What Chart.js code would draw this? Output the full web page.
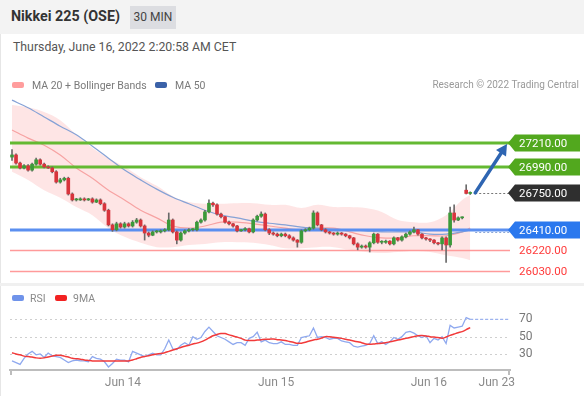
<!DOCTYPE html>
<html><head><meta charset="utf-8">
<script src="https://cdn.jsdelivr.net/npm/chart.js@4/dist/chart.umd.min.js"></script>
<style>
html,body{margin:0;padding:0;background:#fff;}
body{width:584px;height:396px;position:relative;overflow:hidden;font-family:Roboto,"Liberation Sans",Arial,sans-serif;}
#hdr{position:absolute;left:0;top:0;width:584px;height:34px;background:#f3f3f3;}
#title{position:absolute;left:11px;top:8px;font-size:14.3px;font-weight:bold;color:#333;}
#tf{position:absolute;left:130px;top:6px;height:23px;width:46px;background:#dcdde1;color:#444;font-size:12px;line-height:23px;text-align:center;}
#date{position:absolute;left:13px;top:40px;font-size:12.3px;color:#555;}
#leftline{position:absolute;left:0;top:34px;width:1px;height:362px;background:#e6e6e6;}
#sep{position:absolute;left:0;top:283px;width:584px;height:3px;background:#f0f0f0;}
canvas{position:absolute;left:0;}
#main{top:60px;}
#rsi{top:286px;}
.lg{position:absolute;font-size:10.5px;color:#7a7a7a;white-space:nowrap;z-index:2;}
.sw{position:absolute;width:12px;height:6px;border-radius:2px;z-index:2;}
</style></head>
<body>
<div id="hdr"></div>
<div id="title">Nikkei 225 (OSE)</div>
<div id="tf">30 MIN</div>
<div id="date">Thursday, June 16, 2022 2:20:58 AM CET</div>
<div id="leftline"></div>
<canvas id="main" width="584" height="223"></canvas>
<div id="sep"></div>
<canvas id="rsi" width="584" height="110"></canvas>
<div class="sw" style="left:12px;top:82px;background:#ff9d9d"></div>
<div class="lg" style="left:32px;top:79px">MA 20 + Bollinger Bands</div>
<div class="sw" style="left:155px;top:82px;background:#3b62a8"></div>
<div class="lg" style="left:175px;top:79px">MA 50</div>
<div class="lg" style="right:5px;top:79px;color:#9a9a9a;font-size:10px">Research © 2022 Trading Central</div>
<div class="sw" style="left:12px;top:295px;background:#6f93ea"></div>
<div class="lg" style="left:30px;top:292px;color:#8a8a8a">RSI</div>
<div class="sw" style="left:55px;top:295px;background:#f22222"></div>
<div class="lg" style="left:73px;top:292px;color:#8a8a8a">9MA</div>
<script>
// ---------- DATA ----------
const opens = [27080,27100,27025,26980,27000,26960,27015,27055,27015,26990,26980,26945,26850,26870,26885,26740,26685,26685,26695,26685,26695,26665,26685,26650,26590,26455,26410,26465,26435,26465,26445,26480,26500,26445,26380,26360,26390,26390,26400,26410,26500,26390,26315,26380,26400,26410,26410,26480,26500,26575,26655,26640,26555,26530,26480,26465,26445,26400,26410,26420,26390,26500,26535,26555,26410,26380,26370,26355,26370,26355,26335,26315,26295,26400,26410,26425,26565,26455,26410,26390,26380,26370,26380,26370,26355,26335,26280,26250,26260,26250,26290,26370,26295,26295,26305,26280,26335,26315,26345,26370,26390,26410,26370,26335,26325,26315,26290,26280,26335,26270,26565,26500,26520,26775,26745];
const highs = [27150,27110,27035,27010,27010,27025,27070,27065,27025,27000,26990,26955,26885,26895,26895,26750,26700,26705,26705,26700,26705,26695,26695,26660,26600,26465,26480,26475,26480,26475,26495,26515,26510,26455,26390,26400,26405,26410,26420,26565,26510,26400,26390,26410,26420,26420,26490,26510,26590,26685,26665,26650,26565,26535,26490,26470,26450,26415,26430,26425,26510,26545,26575,26565,26420,26390,26380,26380,26380,26365,26345,26320,26410,26420,26435,26585,26575,26460,26420,26395,26385,26390,26385,26375,26360,26340,26290,26270,26270,26300,26380,26375,26310,26315,26310,26345,26340,26355,26380,26400,26435,26415,26375,26340,26330,26320,26295,26345,26345,26620,26640,26530,26530,26825,26760];
const lows = [27050,27015,26970,26970,26950,26950,27005,27005,26980,26975,26935,26840,26840,26860,26730,26675,26675,26680,26675,26680,26655,26660,26640,26580,26445,26395,26400,26425,26425,26435,26435,26470,26435,26315,26345,26355,26380,26380,26390,26400,26380,26280,26305,26370,26390,26400,26400,26470,26490,26565,26625,26545,26520,26470,26455,26435,26390,26395,26400,26380,26380,26490,26525,26400,26365,26360,26345,26345,26345,26325,26305,26250,26285,26390,26400,26415,26445,26400,26380,26370,26360,26360,26360,26345,26325,26270,26225,26240,26240,26205,26280,26285,26280,26285,26270,26270,26305,26305,26335,26360,26380,26360,26325,26315,26300,26280,26270,26225,26110,26250,26480,26495,26510,26740,26735];
const closes = [27100,27025,26980,27000,26960,27015,27055,27015,26990,26980,26945,26850,26870,26885,26740,26685,26685,26695,26685,26695,26665,26685,26650,26590,26455,26410,26465,26435,26465,26445,26480,26500,26445,26380,26360,26390,26390,26400,26410,26500,26390,26315,26380,26400,26410,26410,26480,26500,26575,26655,26640,26555,26530,26480,26465,26445,26400,26410,26420,26390,26500,26535,26555,26410,26380,26370,26355,26370,26355,26335,26315,26295,26400,26410,26425,26565,26455,26410,26390,26380,26370,26380,26370,26355,26335,26280,26250,26260,26250,26290,26370,26295,26295,26305,26280,26335,26315,26345,26370,26390,26410,26370,26335,26325,26315,26290,26280,26335,26270,26565,26500,26520,26520,26745,26750];

// indicator samples (candle index -> value)
const bandIdx = [0,4,8,12,16,20,24,28,32,36,40,44,48,52,56,60,64,68,72,76,80,84,88,92,96,100,104,108,112,114];
const bbUpper = [27560,27540,27495,27420,27285,27165,27070,26990,26895,26815,26720,26665,26650,26650,26655,26655,26640,26640,26610,26640,26620,26620,26610,26575,26500,26480,26480,26545,26685,26730];
const bbLower = [26945,26870,26775,26705,26620,26545,26425,26345,26290,26250,26250,26270,26280,26295,26295,26290,26270,26240,26240,26250,26250,26225,26205,26195,26205,26215,26205,26175,26150,26130];
const ma20 = [27330,27255,27190,27100,26980,26885,26775,26685,26590,26520,26445,26425,26445,26480,26480,26465,26445,26425,26410,26425,26425,26390,26355,26335,26335,26355,26355,26355,26390,26425];
const ma50 = [27605,27535,27450,27365,27285,27180,27070,26960,26870,26785,26710,26650,26590,26545,26520,26490,26470,26455,26435,26425,26415,26410,26400,26390,26390,26390,26370,26370,26390,26410];

const rsi = [22,20,18,25,30,33,29,30,26,31,28,27,26,23,20,22,23,22,22,21,27,25,24,21,15,19,24,23,23,21,33,31,29,27,29,31,29,29,36,46,36,35,40,43,40,50,47,49,56,61,56,51,49,47,44,41,43,43,40,48,50,55,44,46,43,42,42,44,41,41,40,40,49,50,51,60,49,50,49,47,48,48,45,44,43,39,38,39,40,42,51,42,44,41,44,49,47,50,55,56,54,51,49,51,43,48,46,50,42,63,60,61,62,72,70];
const rsiMa = [31.5,30,29,27.5,27,26.5,25.5,25,25.5,26.5,27.5,28.5,28.5,27.5,26.5,25,24.5,24,23,22.5,22,22,22,22,22,22,22,22,22,22,23,24.5,26,27,28,29,30,30.5,31.5,33,34.5,36,37.5,39,40,41.5,42.5,44,46,48.5,51,52.5,53.5,53.5,52,50.8,49.5,48,46,45.5,45.5,46,46.5,47,47,47.3,46.5,46.2,45.5,44.5,43.5,42.3,42.5,43.5,45,46.2,47,48.3,50,49.8,49.2,48.8,48,47,46,45,44,43,41.5,41.2,41.5,42,42.3,43,44,45,46,47,48,49,50,51,51.2,50.8,50,49.5,49,48.1,49.5,51.5,53,54.5,55.8,58,60.4];
const rsiTicks = [30,50,70];

const tickPos = [27.6,65.7,103.7,120.6];
const tickLabels = ['Jun 14','Jun 15','Jun 16','Jun 23'];

const levels = [27210,26990,26750,26410,26220,26030];
const levelKinds = ['res','res','last','pivot','sup','sup'];
const target = 27210;

// ---------- STYLE ----------
Chart.defaults.font.family = 'Roboto, "Liberation Sans", Arial, sans-serif';
const GREEN='#3c9a3a', RED='#d8343c', WICK='#6a6a6a';
const KST = {
  res:{line:'#64b932',w:3,tag:'#52a81e',txt:'#fff'},
  last:{line:null,w:0,tag:'#2f2f2f',txt:'#fff'},
  pivot:{line:'#5b8ff0',w:3,tag:'#2a78ee',txt:'#fff'},
  sup:{line:'#ff9a9a',w:1.5,tag:null,txt:'#ff3b3b'}
};
const XMIN=-0.5, XMAX=123.9;
const pts = (idx, vals) => idx.map((x,i)=>({x, y: vals[i]}));

function drawTag(ctx,x,y,w,h,color){
  ctx.beginPath();
  ctx.moveTo(x,y); ctx.lineTo(x+7,y-h/2); ctx.lineTo(x+w,y-h/2);
  ctx.lineTo(x+w,y+h/2); ctx.lineTo(x+7,y+h/2); ctx.closePath();
  ctx.fillStyle=color; ctx.fill();
}

const levelPlugin = {
  id:'levels',
  afterDatasetDraw(chart,args){
    if(args.index!==3) return;
    const {ctx, chartArea:a, scales:{y}} = chart;
    ctx.save();
    levels.forEach((v,k)=>{
      const s=KST[levelKinds[k]]; if(!s.line) return;
      let py=Math.round(y.getPixelForValue(v)); if(s.w<2) py+=0.5;
      ctx.beginPath(); ctx.strokeStyle=s.line; ctx.lineWidth=s.w;
      ctx.moveTo(a.left,py); ctx.lineTo(a.right,py); ctx.stroke();
    });
    ctx.restore();
  },
  afterDraw(chart){
    const {ctx, chartArea:a, scales:{x,y}} = chart;
    const last = closes.length-1;
    ctx.save();
    ctx.setLineDash([2,2]); ctx.lineWidth=1;
    const lx = x.getPixelForValue(last)+5;
    ctx.strokeStyle='#777';
    let py=Math.round(y.getPixelForValue(closes[last]))+0.5;
    ctx.beginPath(); ctx.moveTo(lx,py); ctx.lineTo(a.right,py); ctx.stroke();
    ctx.strokeStyle='#8aa6d8';
    py=Math.round(y.getPixelForValue(ma50[ma50.length-1]))+2.5;
    ctx.beginPath(); ctx.moveTo(lx,py); ctx.lineTo(a.right,py); ctx.stroke();
    ctx.setLineDash([]);
    ctx.font='11.5px Roboto, "Liberation Sans", Arial, sans-serif';
    ctx.textBaseline='middle';
    levels.forEach((v,k)=>{
      const s=KST[levelKinds[k]];
      const ty=Math.round(y.getPixelForValue(v));
      if(s.tag) drawTag(ctx,a.right-2,ty,72,17,s.tag);
      ctx.fillStyle=s.txt; ctx.fillText(v.toFixed(2),a.right+9,ty+1);
    });
    const x0=x.getPixelForValue(last)+5, y0=y.getPixelForValue(closes[last]);
    const x1=a.right-3, y1=y.getPixelForValue(target)+1;
    const ang=Math.atan2(y1-y0,x1-x0);
    const hl=11, hw=6;
    const bx=x1-hl*Math.cos(ang), by=y1-hl*Math.sin(ang);
    ctx.strokeStyle='#2e65b2'; ctx.fillStyle='#2e65b2'; ctx.lineWidth=3.5; ctx.lineCap='round';
    ctx.beginPath(); ctx.moveTo(x0,y0); ctx.lineTo(bx,by); ctx.stroke();
    ctx.beginPath(); ctx.moveTo(x1,y1);
    ctx.lineTo(bx+hw*Math.sin(ang), by-hw*Math.cos(ang));
    ctx.lineTo(bx-hw*Math.sin(ang), by+hw*Math.cos(ang));
    ctx.closePath(); ctx.fill();
    ctx.restore();
  }
};

new Chart(document.getElementById('main'),{
  type:'bar',
  data:{datasets:[
    {type:'line',label:'BB upper',data:pts(bandIdx,bbUpper),fill:'+1',backgroundColor:'rgba(250,125,125,0.2)',borderWidth:0,pointRadius:0,tension:0.35,order:6},
    {type:'line',label:'BB lower',data:pts(bandIdx,bbLower),fill:false,borderWidth:0,pointRadius:0,tension:0.35,order:6},
    {type:'line',label:'MA 20',data:pts(bandIdx,ma20),borderColor:'#f7a3a3',borderWidth:1.2,pointRadius:0,tension:0.35,order:5},
    {type:'line',label:'MA 50',data:pts(bandIdx,ma50),borderColor:'#86a2d6',borderWidth:1.2,pointRadius:0,tension:0.35,order:4},
    {type:'bar',label:'wick',data:lows.map((l,i)=>({x:i,y:[l,highs[i]]})),backgroundColor:WICK,barThickness:1,grouped:false,order:3},
    {type:'bar',label:'body',data:opens.map((o,i)=>({x:i,y:[o,closes[i]]})),backgroundColor:closes.map((c,i)=>c>=opens[i]?GREEN:RED),barThickness:3,grouped:false,minBarLength:1,order:2}
  ]},
  options:{
    responsive:false,animation:false,
    layout:{padding:{left:10,right:74,top:35,bottom:3}},
    plugins:{legend:{display:false},tooltip:{enabled:false}},
    scales:{
      x:{type:'linear',min:XMIN,max:XMAX,offset:false,display:false},
      y:{type:'linear',min:25947,max:27652.5,display:false}
    }
  },
  plugins:[levelPlugin]
});

const rsiPlugin = {
  id:'rsiDeco',
  beforeDatasetsDraw(chart){
    const {ctx, chartArea:a, scales:{y}} = chart;
    ctx.save(); ctx.strokeStyle='#cfcfcf'; ctx.lineWidth=1; ctx.setLineDash([2,3]);
    rsiTicks.forEach(v=>{const py=Math.round(y.getPixelForValue(v))+0.5;
      ctx.beginPath(); ctx.moveTo(a.left,py); ctx.lineTo(a.right,py); ctx.stroke();});
    ctx.restore();
  },
  afterDraw(chart){
    const {ctx, chartArea:a, scales:{x,y}} = chart;
    const last=rsi.length-1;
    ctx.save();
    ctx.strokeStyle='#9cb3f0'; ctx.lineWidth=1.2; ctx.setLineDash([3,2]);
    const py=y.getPixelForValue(rsi[last]);
    ctx.beginPath(); ctx.moveTo(x.getPixelForValue(last),py); ctx.lineTo(a.right,py); ctx.stroke();
    ctx.setLineDash([]); ctx.strokeStyle='#bdbdbd'; ctx.lineWidth=2;
    [a.left+1,a.right-1].forEach(px=>{ctx.beginPath();ctx.moveTo(px,a.bottom);ctx.lineTo(px,a.bottom+5);ctx.stroke();});
    ctx.restore();
  }
};

new Chart(document.getElementById('rsi'),{
  type:'line',
  data:{datasets:[
    {label:'RSI',data:rsi.map((v,i)=>({x:i,y:v})),borderColor:'#8fa9ef',borderWidth:1.3,pointRadius:0,tension:0,order:2},
    {label:'9MA',data:rsiMa.map((v,i)=>({x:i,y:v})),borderColor:'#f23a3a',borderWidth:1.5,pointRadius:0,tension:0.3,order:1}
  ]},
  options:{
    responsive:false,animation:false,
    layout:{padding:{left:10,right:0,top:19,bottom:0}},
    plugins:{legend:{display:false},tooltip:{enabled:false}},
    scales:{
      x:{type:'linear',min:XMIN,max:XMAX,offset:false,
        afterBuildTicks:s=>{s.ticks=tickPos.map(v=>({value:v}));},
        afterFit:s=>{s.height=26;},
        grid:{display:false,drawTicks:false},
        border:{display:true,color:'#bdbdbd',width:2},
        ticks:{autoSkip:false,maxRotation:0,padding:6,color:'#8a8a8a',font:{size:12},callback:(v,i)=>tickLabels[i]}},
      y:{type:'linear',position:'right',min:11.5,max:86.5,
        afterBuildTicks:s=>{s.ticks=rsiTicks.map(v=>({value:v}));},
        afterFit:s=>{s.width=74;},
        grid:{display:false,drawTicks:false},
        border:{display:false},
        ticks:{padding:9,color:'#777',font:{size:12}}}
    }
  },
  plugins:[rsiPlugin]
});
</script>
</body></html>
